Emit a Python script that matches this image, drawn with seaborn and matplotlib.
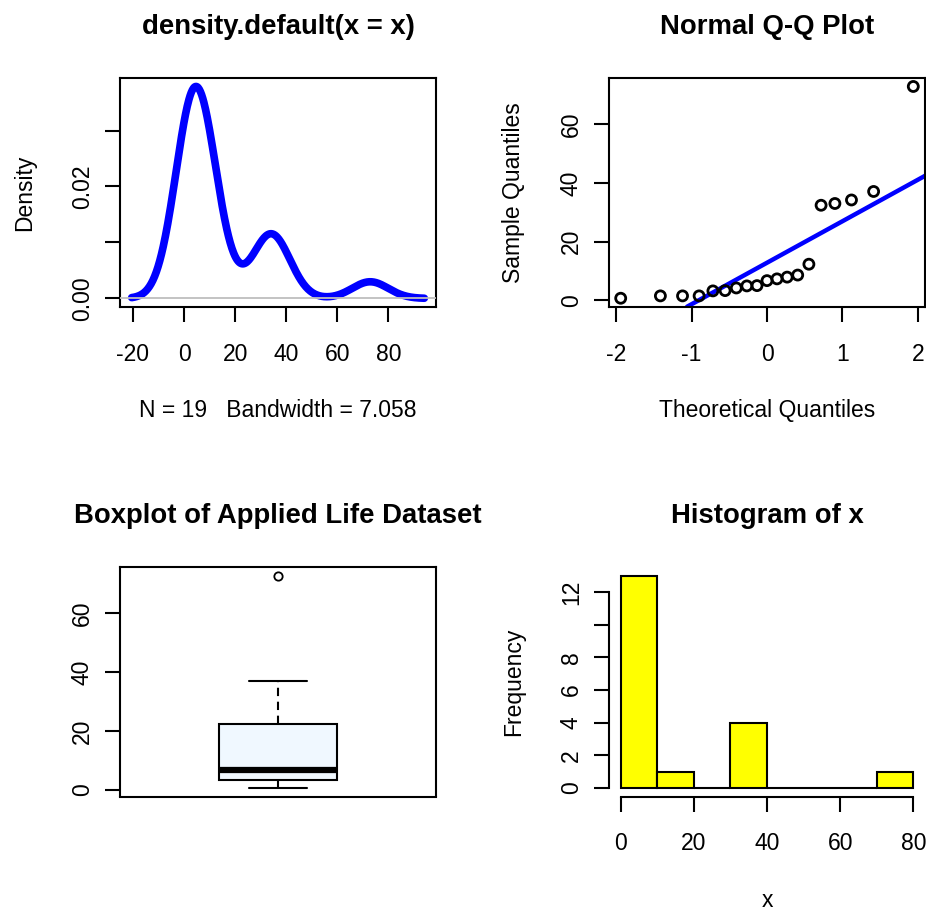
import numpy as np
import pandas as pd
import matplotlib
matplotlib.use("Agg")
import matplotlib.pyplot as plt
import seaborn as sns
from statistics import NormalDist

# ---- data ----
life = [0.7, 1.5, 1.5, 1.5, 3.2, 3.3, 4.2, 4.9, 5.0, 6.7, 7.3, 7.9, 8.6,
        12.3, 32.4, 33.0, 34.2, 37.1, 72.9]
bandwidth = 7.058
hist_edges = [0, 10, 20, 30, 40, 50, 60, 70, 80]
titles = ["density.default(x = x)", "Normal Q-Q Plot",
          "Boxplot of Applied Life Dataset", "Histogram of x"]
dens_yticks = [0.00, 0.01, 0.02, 0.03]
dens_ylabels = ["0.00", "", "0.02", ""]
dens_xticks = [-20, 0, 20, 40, 60, 80]
qq_xticks = [-2, -1, 0, 1, 2]
qq_yticks = [0, 20, 40, 60]
box_yticks = [0, 20, 40, 60]
hist_xticks = [0, 20, 40, 60, 80]
hist_yticks = [0, 2, 4, 6, 8, 10, 12]
hist_ylabels = ["0", "2", "4", "6", "8", "", "12"]

sns.set_style("white")
plt.rcParams['font.family'] = ['Liberation Sans', 'DejaVu Sans']
plt.rcParams['axes.unicode_minus'] = False
plt.rcParams['text.color'] = 'black'
plt.rcParams['axes.labelcolor'] = 'black'
plt.rcParams['axes.titlecolor'] = 'black'

TICK = 16.5
TITLE = 19.8

W, H = 926, 911
fig = plt.figure(figsize=(W / 100, H / 100), dpi=100)


def add_ax(l, t, r, b):
    return fig.add_axes([l / W, 1 - b / H, (r - l) / W, (b - t) / H])


ax1 = add_ax(120, 78, 436, 306.7)
ax2 = add_ax(609, 78, 925, 306.7)
ax3 = add_ax(120, 567, 436, 796.5)
ax4 = add_ax(609, 567, 925, 796.5)


def pad(vals, f=0.04):
    lo, hi = float(np.min(vals)), float(np.max(vals))
    d = (hi - lo) * f
    return lo - d, hi + d


def style(ax):
    ax.set_facecolor("white")
    for s in ax.spines.values():
        s.set_color("black")
        s.set_linewidth(1.5)
        s.set_visible(True)
    ax.tick_params(axis="both", which="major", length=10.8, width=1.5,
                   color="black", labelsize=TICK, labelcolor="black",
                   direction="out", bottom=True, left=True)
    ax.tick_params(axis="x", pad=15)
    ax.tick_params(axis="y", pad=8, labelrotation=90)
    ax.grid(False)


def rot_y(ax):
    for lbl in ax.get_yticklabels():
        lbl.set_va("center")


x = np.array(life)

# ---- density ----
sd = x.std(ddof=1)
sns.kdeplot(x=x, bw_method=bandwidth / sd, cut=3, gridsize=512,
            color="blue", lw=5.5, ax=ax1)
xd, yd = ax1.lines[0].get_data()
ax1.axhline(0, color="#BEBEBE", lw=1.3, zorder=3)
ax1.set_xlim(*pad(xd))
ax1.set_ylim(*pad(yd))
style(ax1)
ax1.set_xticks(dens_xticks)
ax1.set_yticks(dens_yticks)
ax1.set_yticklabels(dens_ylabels)
rot_y(ax1)
ax1.set_title(titles[0], fontsize=TITLE, fontweight="bold", pad=32, color="black")
ax1.set_xlabel(f"N = {len(x)}   Bandwidth = {bandwidth:.3f}", fontsize=TICK,
               labelpad=24, color="black")
ax1.set_ylabel("Density", fontsize=TICK, labelpad=25, color="black")

# ---- normal Q-Q ----
n = len(x)
probs = (np.arange(1, n + 1) - 0.5) / n
nd = NormalDist()
theo = np.array([nd.inv_cdf(p) for p in probs])
qq = pd.DataFrame({"theo": theo, "sample": np.sort(x)})
sns.scatterplot(data=qq, x="theo", y="sample", marker="o", s=52,
                edgecolor="black", linewidth=2.0, ax=ax2, zorder=3)
ax2.collections[0].set_facecolor("none")
q1, q3 = np.quantile(x, [0.25, 0.75])
z1, z3 = nd.inv_cdf(0.25), nd.inv_cdf(0.75)
slope = (q3 - q1) / (z3 - z1)
icpt = q1 - slope * z1
ax2.axline((0, icpt), slope=slope, color="blue", lw=3.2, zorder=2)
ax2.set_xlim(*pad(theo))
ax2.set_ylim(*pad(x))
style(ax2)
ax2.set_xticks(qq_xticks)
ax2.set_yticks(qq_yticks)
rot_y(ax2)
ax2.set_title(titles[1], fontsize=TITLE, fontweight="bold", pad=32, color="black")
ax2.set_xlabel("Theoretical Quantiles", fontsize=TICK, labelpad=24, color="black")
ax2.set_ylabel("Sample Quantiles", fontsize=TICK, labelpad=25, color="black")

# ---- boxplot ----
sns.boxplot(y=x, ax=ax3, width=0.4, color="aliceblue", saturation=1,
            linecolor="black", linewidth=1.5, whis=1.5,
            medianprops=dict(lw=4.5, color="black"),
            whiskerprops=dict(ls=(0, (4, 2.7)), lw=1.5, color="black"),
            capprops=dict(lw=1.5, color="black"),
            flierprops=dict(marker="o", markersize=6, markerfacecolor="none",
                            markeredgecolor="black", markeredgewidth=1.3))
ax3.set_xlim(-0.54, 0.54)
ax3.set_ylim(*pad(x))
style(ax3)
ax3.set_xticks([])
ax3.set_yticks(box_yticks)
rot_y(ax3)
ax3.set_xlabel("")
ax3.set_ylabel("")
ax3.set_title(titles[2], fontsize=TITLE, fontweight="bold", pad=32, color="black")

# ---- histogram ----
sns.histplot(x=x, bins=hist_edges, color="yellow", edgecolor="black",
             linewidth=1.5, alpha=1, stat="count", ax=ax4)
heights = [p.get_height() for p in ax4.patches]
ax4.set_xlim(*pad(hist_edges))
ax4.set_ylim(*pad([0] + heights))
style(ax4)
ax4.spines["top"].set_visible(False)
ax4.spines["right"].set_visible(False)
ax4.spines["left"].set_bounds(hist_yticks[0], hist_yticks[-1])
ax4.spines["bottom"].set_bounds(hist_xticks[0], hist_xticks[-1])
ax4.set_xticks(hist_xticks)
ax4.set_yticks(hist_yticks)
ax4.set_yticklabels(hist_ylabels)
rot_y(ax4)
ax4.set_title(titles[3], fontsize=TITLE, fontweight="bold", pad=32, color="black")
ax4.set_xlabel("x", fontsize=TICK, labelpad=24, color="black")
ax4.set_ylabel("Frequency", fontsize=TICK, labelpad=25, color="black")

fig.savefig("out.png", dpi=100)
